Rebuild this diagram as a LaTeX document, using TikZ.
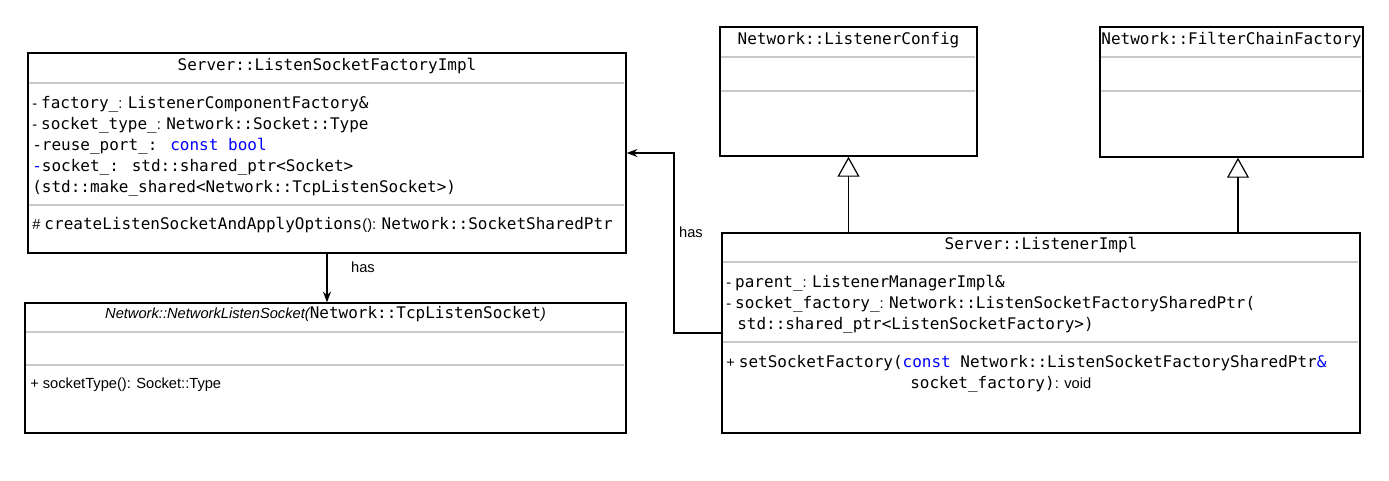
\documentclass[tikz,border=0pt]{standalone}
\usepackage{fontspec}
\setmainfont{Liberation Sans}
\newfontfamily\monof{DejaVu Sans Mono}
\usetikzlibrary{arrows.meta}
\definecolor{kwblue}{RGB}{0,0,255}
\definecolor{sepgray}{RGB}{200,200,200}
\newcommand{\arl}[1]{{\normalfont\fontsize{11}{13}\selectfont #1}}

\begin{document}
\begin{tikzpicture}[x=0.75pt, y=-0.75pt,
  classbox/.style={draw, line width=1.1pt, inner sep=0},
  sep/.style={draw=sepgray, line width=1.5pt},
  head/.style={anchor=base, inner sep=0, font=\monof\fontsize{12}{15}\selectfont},
  mem/.style={anchor=base west, inner sep=0, font=\monof\fontsize{12}{15}\selectfont},
  lbl/.style={inner sep=0, font=\fontsize{11}{13}\selectfont},
  has/.style={-{Stealth[length=8pt, width=6pt]}, line width=0.9pt},
  inherit/.style={-{Triangle[open, length=15pt, width=16.5pt]}, line width=0.9pt}]
\useasboundingbox (0,0) rectangle (1389,480);

% class boxes
\node[classbox, minimum width=448.5pt, minimum height=150pt] (lsf) at (327,153) {};
\node[classbox, minimum width=450.75pt, minimum height=97.5pt] (nls) at (325.5,368) {};
\node[classbox, minimum width=192.75pt, minimum height=96.75pt] (lc) at (848.5,91.5) {};
\node[classbox, minimum width=197.25pt, minimum height=97.5pt] (fcf) at (1231.5,92) {};
\node[classbox, minimum width=478.5pt, minimum height=150pt] (li) at (1041,333) {};

% compartments
\draw[sep] (lsf.north west) ++(1.5,31) -- +(595,0);
\draw[sep] (lsf.north west) ++(1.5,153) -- +(595,0);
\draw[sep] (nls.north west) ++(1.5,30) -- +(598,0);
\draw[sep] (nls.north west) ++(1.5,63) -- +(598,0);
\draw[sep] (lc.north west) ++(1.5,31) -- +(254,0);
\draw[sep] (lc.north west) ++(1.5,65) -- +(254,0);
\draw[sep] (fcf.north west) ++(1.5,31) -- +(260,0);
\draw[sep] (fcf.north west) ++(1.5,65) -- +(260,0);
\draw[sep] (li.north west) ++(1.5,30) -- +(635,0);
\draw[sep] (li.north west) ++(1.5,110) -- +(635,0);

% Server::ListenSocketFactoryImpl
\node[head] (lsfName) at (327,70) {Server::ListenSocketFactoryImpl};
\node[mem] (lsfF1) at (32,108) {\arl{- }factory\_\arl{: }ListenerComponentFactory\&};
\node[mem] (lsfF2) at (32,129) {\arl{- }socket\_type\_\arl{: }Network::Socket::Type};
\node[mem] (lsfF3) at (32,150) {-reuse\_port\_: \textcolor{kwblue}{const bool}};
\node[mem] (lsfF4) at (32,171) {\textcolor{kwblue}{-}socket\_: std::shared\_ptr<Socket>};
\node[mem] (lsfF5) at (32,192) {(std::make\_shared<Network::TcpListenSocket>)};
\node[mem] (lsfM1) at (32,229) {\arl{\# }createListenSocketAndApplyOptions\arl{(): }Network::SocketSharedPtr};

% Network::NetworkListenSocket
\node[head] (nlsName) at (325.5,318) {\arl{\itshape Network::NetworkListenSocket(}Network::TcpListenSocket\arl{\itshape )}};
\node[mem] (nlsM1) at (30,388) {\arl{+ socketType(): Socket::Type}};

% Network::ListenerConfig, Network::FilterChainFactory
\node[head] (lcName) at (848.5,44) {Network::ListenerConfig};
\node[head] (fcfName) at (1231.5,44) {Network::FilterChainFactory};

% Server::ListenerImpl
\node[head] (liName) at (1041,249) {Server::ListenerImpl};
\node[mem] (liF1) at (726,287) {\arl{- }parent\_\arl{: }ListenerManagerImpl\&};
\node[mem] (liF2) at (726,308) {\arl{- }socket\_factory\_\arl{: }Network::ListenSocketFactorySharedPtr(};
\node[mem] (liF3) at (737,329) {std::shared\_ptr<ListenSocketFactory>)};
\node[mem] (liM1) at (726,367) {\arl{+ }setSocketFactory(\textcolor{kwblue}{const} Network::ListenSocketFactorySharedPtr\textcolor{kwblue}{\&}};
\node[mem] (liM2) at (910,388) {socket\_factory)\arl{: void}};

% relations
\draw[has] (lsf.south) -- (lsf.south |- nls.north);
\node[lbl] (has1) at (363,267) {has};
\coordinate (hasBend) at (674,333);
\draw[has] (li.west) -- (hasBend) |- (lsf.east);
\node[lbl] (has2) at (691,232) {has};
\coordinate (fcfIn) at (1238,0);
\draw[inherit] (li.north -| lc.south) -- (lc.south);
\draw[inherit] (li.north -| fcfIn) -- (fcf.south -| fcfIn);
\end{tikzpicture}
\end{document}
